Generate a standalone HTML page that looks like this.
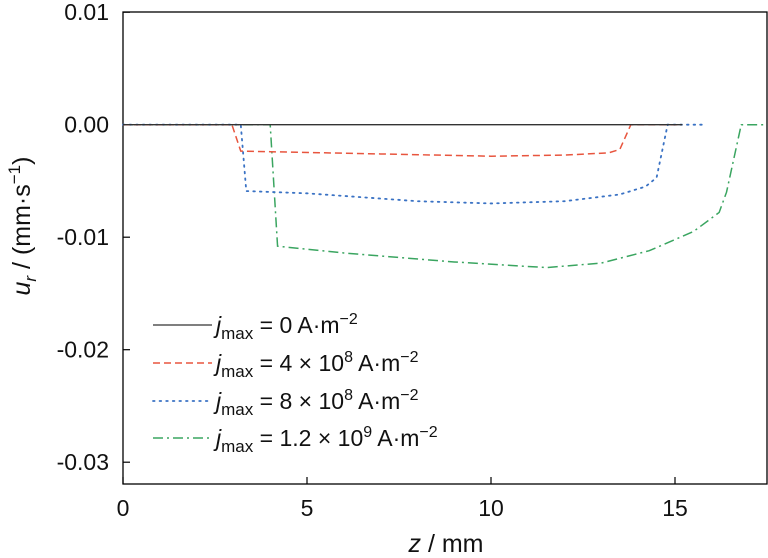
<!DOCTYPE html>
<html><head><meta charset="utf-8"><style>
body{margin:0;background:#fff;}
svg{display:block;font-family:"Liberation Sans",Arial,sans-serif;}
</style></head><body>
<svg id="chart" width="768" height="558" xmlns="http://www.w3.org/2000/svg">
<g id="plot"></g>
</svg>
<script>
const xTicks=[0,5,10,15];
const yTicks=[0.01,0.00,-0.01,-0.02,-0.03];
const yTickLabels=["0.01","0.00","-0.01","-0.02","-0.03"];
const seriesNames=["0","4 × 10","8 × 10","1.2 × 10"];
const seriesExp=["","8","8","9"];
const z0=[0,15.2];
const u0=[0,0];
const z1=[0,2.96,3.2,4,7,10,12,13.2,13.5,13.8,15.1];
const u1=[0,0,-0.00235,-0.0024,-0.0026,-0.0028,-0.0027,-0.0025,-0.0022,0,0];
const z2=[0,3.2,3.35,5,8,10,12,13.5,14.2,14.5,14.8,15.8];
const u2=[0,0,-0.0059,-0.0061,-0.0068,-0.007,-0.0068,-0.0062,-0.0055,-0.0047,0,0];
const z3=[0,4.0,4.2,6,9,11.5,13,14.3,15.5,16.2,16.4,16.8,17.5];
const u3=[0,0,-0.0108,-0.0114,-0.0122,-0.0127,-0.0123,-0.0112,-0.0095,-0.0078,-0.006,0,0];
const L=123,R=767,T=12,B=484,XMAX=17.5;
const xs=z=>L+z*(R-L)/XMAX;
const ys=v=>124.7-v*11250;
const NS="http://www.w3.org/2000/svg";
const g=document.getElementById('plot');
function el(t,a){const e=document.createElementNS(NS,t);for(const k in a)e.setAttribute(k,a[k]);g.appendChild(e);return e;}
let f=el('rect',{x:L,y:T,width:R-L,height:B-T,fill:'none',stroke:'#000','stroke-width':1.3});


xTicks.forEach(t=>{
 let l=el('line',{x1:xs(t),x2:xs(t),y1:B,y2:B-7,stroke:'#000','stroke-width':1.2});
 
 
 let tx=el('text',{x:xs(t),y:B+32,'text-anchor':'middle','font-size':23,fill:'#111'});
 tx.textContent=t;
 
 
});
yTicks.forEach((t,i)=>{
 let l=el('line',{x1:L,x2:L+7,y1:ys(t),y2:ys(t),stroke:'#000','stroke-width':1.2});
 
 
 let tx=el('text',{x:109,y:ys(t)+8,'text-anchor':'end','font-size':23,fill:'#111'});
 tx.textContent=yTickLabels[i];
 
 
});
const styles=[
 {c:'#333',d:'',w:1.3},
 {c:'#e8553e',d:'7,4',w:1.5},
 {c:'#3a72c4',d:'1.6,5',w:1.8},
 {c:'#3aa560',d:'10,4,2,4',w:1.5}];
const Z=[z0,z1,z2,z3],U=[u0,u1,u2,u3];
[3,2,1,0].forEach(i=>{
 let p=el('polyline',{points:Z[i].map((z,k)=>xs(z)+','+ys(U[i][k])).join(' '),fill:'none',stroke:styles[i].c,'stroke-width':styles[i].w,'stroke-dasharray':styles[i].d,'stroke-linecap':i==2?'round':'butt'});
 
 
});
const ly=[325,363,401,438];
seriesNames.forEach((n,i)=>{
 let l=el('line',{x1:153,x2:212,y1:ly[i],y2:ly[i],stroke:styles[i].c,'stroke-width':styles[i].w,'stroke-dasharray':styles[i].d,'stroke-linecap':i==2?'round':'butt'});
 
 
 let t=el('text',{x:216,y:ly[i]+8,'font-size':23,fill:'#111'});
 
 
 let s='<tspan font-style="italic">j</tspan><tspan font-size="17" dy="6">max</tspan><tspan dy="-6"> = '+n+'</tspan>';
 if(seriesExp[i])s+='<tspan font-size="16" dy="-9">'+seriesExp[i]+'</tspan><tspan dy="9"> A·m</tspan>';
 else s+='<tspan> A·m</tspan>';
 s+='<tspan font-size="16" dy="-9">−2</tspan>';
 t.innerHTML=s;
});
let xl=el('text',{x:446,y:552,'text-anchor':'middle','font-size':25,fill:'#111'});
xl.innerHTML='<tspan font-style="italic">z</tspan> / mm';


let yl=el('text',{x:0,y:0,'text-anchor':'middle','font-size':25,fill:'#111',transform:'translate(30,226) rotate(-90)'});
yl.innerHTML='<tspan font-style="italic">u</tspan><tspan font-style="italic" font-size="17" dy="6">r</tspan><tspan dy="-6"> / (mm·s</tspan><tspan font-size="17" dy="-10">−1</tspan><tspan dy="10">)</tspan>';


</script>
</body></html>
